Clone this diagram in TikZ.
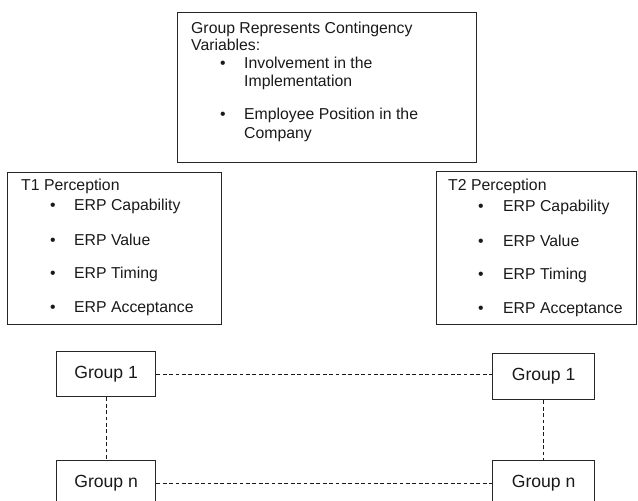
\documentclass[tikz,border=0pt]{standalone}
\usepackage{fontspec}
\setmainfont{Liberation Sans}
\begin{document}
\begin{tikzpicture}[x=1pt,y=-1pt,
  box/.style={draw=black!85, line width=1.3pt, inner sep=0pt, anchor=north west},
  gbox/.style={box},
  glabel/.style={font=\fontsize{17.6}{20}\selectfont, text=black!90},
  txt/.style={anchor=base west, inner sep=0pt, font=\fontsize{15.8}{17.5}\selectfont, text=black!90},
  dashline/.style={draw=black!90, line width=1.15pt, dash pattern=on 3.8pt off 2.6pt}]
\clip (0,0) rectangle (638,501);
% boxes
\node[box, minimum width=299pt, minimum height=150pt] (topbox) at (177,12) {};
\node[box, minimum width=214pt, minimum height=152pt] (tone) at (7,172) {};
\node[box, minimum width=200pt, minimum height=153pt] (ttwo) at (436,171) {};
% top box text
\node[txt] (t1) at (191,33) {Group Represents Contingency};
\node[txt] (t2) at (191,50) {Variables:};
\node[txt] (tb1) at (220,68) {•};
\node[txt] (t3) at (244,68) {Involvement in the};
\node[txt] (t4) at (244,86) {Implementation};
\node[txt] (tb2) at (220,119) {•};
\node[txt] (t5) at (244,119) {Employee Position in the};
\node[txt] (t6) at (244,138) {Company};
% T1 text
\node[txt] (a0) at (21,190) {T1 Perception};
\node[txt] (ab1) at (50,210) {•};
\node[txt] (a1) at (74,210) {ERP Capability};
\node[txt] (ab2) at (50,245) {•};
\node[txt] (a2) at (74,245) {ERP Value};
\node[txt] (ab3) at (50,278) {•};
\node[txt] (a3) at (74,278) {ERP Timing};
\node[txt] (ab4) at (50,312) {•};
\node[txt] (a4) at (74,312) {ERP Acceptance};
% T2 text
\node[txt] (b0) at (448,190) {T2 Perception};
\node[txt] (bb1) at (478,211) {•};
\node[txt] (b1) at (503,211) {ERP Capability};
\node[txt] (bb2) at (478,246) {•};
\node[txt] (b2) at (503,246) {ERP Value};
\node[txt] (bb3) at (478,279) {•};
\node[txt] (b3) at (503,279) {ERP Timing};
\node[txt] (bb4) at (478,313) {•};
\node[txt] (b4) at (503,313) {ERP Acceptance};
% group boxes
\node[gbox, minimum width=99pt, minimum height=45pt] (g1l) at (56,351) {};
\node[glabel] (g1lt) at (g1l.center) {Group 1};
\node[gbox, minimum width=102pt, minimum height=46pt] (g1r) at (492,353) {};
\node[glabel] (g1rt) at (g1r.center) {Group 1};
\node[gbox, minimum width=99pt, minimum height=45pt] (gnl) at (56,460) {};
\node[glabel] (gnlt) at (gnl.center) {Group n};
\node[gbox, minimum width=102pt, minimum height=45pt] (gnr) at (492,460) {};
\node[glabel] (gnrt) at (gnr.center) {Group n};
% connectors
\draw[dashline] (g1l.east) -- (g1l.east -| g1r.west);
\draw[dashline] (gnl.east) -- (gnl.east -| gnr.west);
\draw[dashline] (g1l.south) -- (gnl.north);
\draw[dashline] (g1r.south) -- (gnr.north);
\end{tikzpicture}
\end{document}
